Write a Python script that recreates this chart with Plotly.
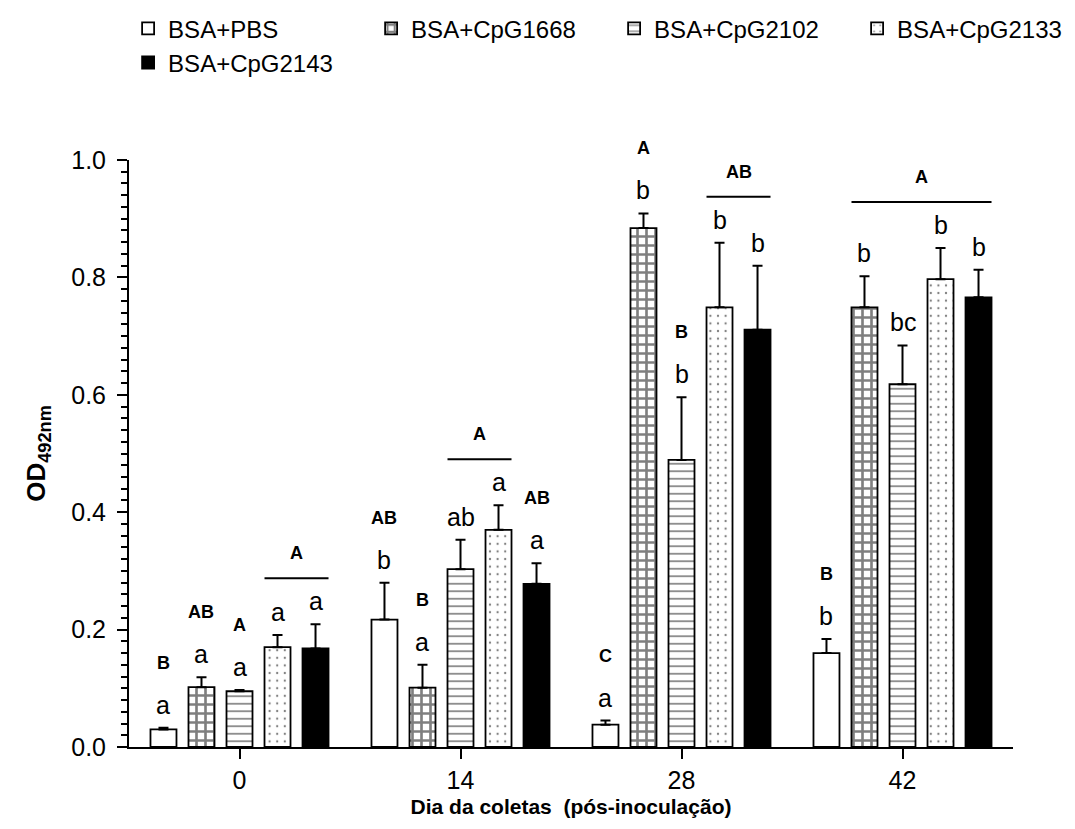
import plotly.graph_objects as go

# ---------------- data ----------------
days = ["0", "14", "28", "42"]
series_names = ["BSA+PBS", "BSA+CpG1668", "BSA+CpG2102", "BSA+CpG2133", "BSA+CpG2143"]

pbs_mean = [0.030, 0.217, 0.038, 0.160]
pbs_err = [0.003, 0.063, 0.007, 0.024]
cpg1668_mean = [0.102, 0.101, 0.884, 0.749]
cpg1668_err = [0.017, 0.039, 0.025, 0.053]
cpg2102_mean = [0.095, 0.303, 0.489, 0.618]
cpg2102_err = [0.002, 0.050, 0.107, 0.066]
cpg2133_mean = [0.170, 0.370, 0.749, 0.797]
cpg2133_err = [0.021, 0.042, 0.110, 0.053]
cpg2143_mean = [0.168, 0.278, 0.711, 0.766]
cpg2143_err = [0.041, 0.035, 0.109, 0.047]

# significance letters (lowercase: within group over time; uppercase: between groups)
pbs_low = ["a", "b", "a", "b"]
cpg1668_low = ["a", "a", "b", "b"]
cpg2102_low = ["a", "ab", "b", "bc"]
cpg2133_low = ["a", "a", "b", "b"]
cpg2143_low = ["a", "a", "b", "b"]

pbs_up = ["B", "AB", "C", "B"]
cpg1668_up = ["AB", "B", "A", ""]
cpg2102_up = ["A", "", "B", ""]
cpg2133_up = ["", "", "", ""]
cpg2143_up = ["", "AB", "", ""]

# bracket lines: (day index, first series index, last series index, label)
brackets = [(0, 3, 4, "A"), (1, 2, 3, "A"), (2, 3, 4, "AB"), (3, 1, 4, "A")]

means = [pbs_mean, cpg1668_mean, cpg2102_mean, cpg2133_mean, cpg2143_mean]
errs = [pbs_err, cpg1668_err, cpg2102_err, cpg2133_err, cpg2143_err]
lows = [pbs_low, cpg1668_low, cpg2102_low, cpg2133_low, cpg2143_low]
ups = [pbs_up, cpg1668_up, cpg2102_up, cpg2133_up, cpg2143_up]

# ---------------- styles ----------------
FONT = "Liberation Sans, Arial, sans-serif"
patterns = [
    dict(shape=""),
    dict(shape="+", size=9, solidity=0.5, fgcolor="black", bgcolor="white"),
    dict(shape="-", size=7.5, solidity=0.22, fgcolor="black", bgcolor="white"),
    dict(shape=".", size=7.6, solidity=0.07, fgcolor="black", bgcolor="white"),
    dict(shape=""),
]
fills = ["white", "white", "white", "white", "black"]

BARGAP = 0.14
BARGROUPGAP = 0.316
n = len(series_names)
slot = (1 - BARGAP) / n
half_bar = slot * (1 - BARGROUPGAP) / 2

fig = go.Figure()
xs = list(range(len(days)))
for i in range(n):
    fig.add_trace(go.Bar(
        x=xs, y=means[i], name=series_names[i],
        marker=dict(color=fills[i], line=dict(color="black", width=1.8),
                    pattern=patterns[i]),
        error_y=dict(type="data", symmetric=False, array=errs[i],
                     arrayminus=[0] * len(days), color="black",
                     thickness=2, width=5),
        cliponaxis=False,
    ))

annotations = []
shapes = []

def bar_x(d, i):
    return d + (i - (n - 1) / 2) * slot

for i in range(n):
    for d in range(len(days)):
        top = means[i][d] + errs[i][d]
        if lows[i][d]:
            annotations.append(dict(
                x=bar_x(d, i), y=top, xref="x", yref="y", text=lows[i][d],
                showarrow=False, yanchor="middle", yshift=23,
                font=dict(family=FONT, size=25, color="black")))
        if ups[i][d]:
            annotations.append(dict(
                x=bar_x(d, i), y=top, xref="x", yref="y", text="<b>%s</b>" % ups[i][d],
                showarrow=False, yanchor="middle", yshift=65,
                font=dict(family=FONT, size=18, color="black")))

for d, i0, i1, lab in brackets:
    top = max(means[i][d] + errs[i][d] for i in range(i0, i1 + 1))
    x0 = bar_x(d, i0) - half_bar
    x1 = bar_x(d, i1) + half_bar
    shapes.append(dict(type="line", xref="x", yref="y", ysizemode="pixel",
                       yanchor=top, x0=x0, x1=x1, y0=46, y1=46,
                       line=dict(color="black", width=2)))
    annotations.append(dict(
        x=(x0 + x1) / 2, y=top, xref="x", yref="y", text="<b>%s</b>" % lab,
        showarrow=False, yanchor="middle", yshift=71,
        font=dict(family=FONT, size=18, color="black")))

fig.update_layout(
    width=1075, height=829,
    margin=dict(l=121, r=70, t=152, b=90, autoexpand=False),
    paper_bgcolor="white", plot_bgcolor="white",
    barmode="group", bargap=BARGAP, bargroupgap=BARGROUPGAP,
    font=dict(family=FONT, color="black"),
    showlegend=True,
    legend=dict(orientation="h", x=-0.001, xanchor="left", y=1.262, yanchor="top",
                font=dict(family=FONT, size=24, color="black"),
                entrywidth=198, entrywidthmode="pixels",
                bgcolor="rgba(0,0,0,0)", traceorder="normal"),
    annotations=annotations,
    shapes=shapes,
)

fig.update_xaxes(
    range=[-0.5, 3.5], tickmode="array", tickvals=xs, ticktext=days,
    showline=True, linecolor="black", linewidth=2, mirror=False,
    ticks="outside", ticklen=10, tickwidth=2, tickcolor="black",
    tickfont=dict(family=FONT, size=25, color="black"),
    showgrid=False, zeroline=False,
    title=dict(text="<b>Dia da coletas&nbsp; (pós-inoculação)</b>",
               font=dict(family=FONT, size=21, color="black"), standoff=6),
)
fig.update_yaxes(
    range=[0, 1.0], tickmode="linear", tick0=0, dtick=0.2, tickformat=".1f",
    showline=True, linecolor="black", linewidth=2,
    ticks="outside", ticklen=10, tickwidth=2, tickcolor="black",
    ticklabelstandoff=6,
    minor=dict(dtick=0.02, ticks="outside", ticklen=6, tickwidth=2, tickcolor="black"),
    tickfont=dict(family=FONT, size=25, color="black"),
    showgrid=False, zeroline=False,
    title=dict(text="<b>OD<sub>492nm</sub></b>",
               font=dict(family=FONT, size=26, color="black"), standoff=18),
)

fig.write_html("out.html")
